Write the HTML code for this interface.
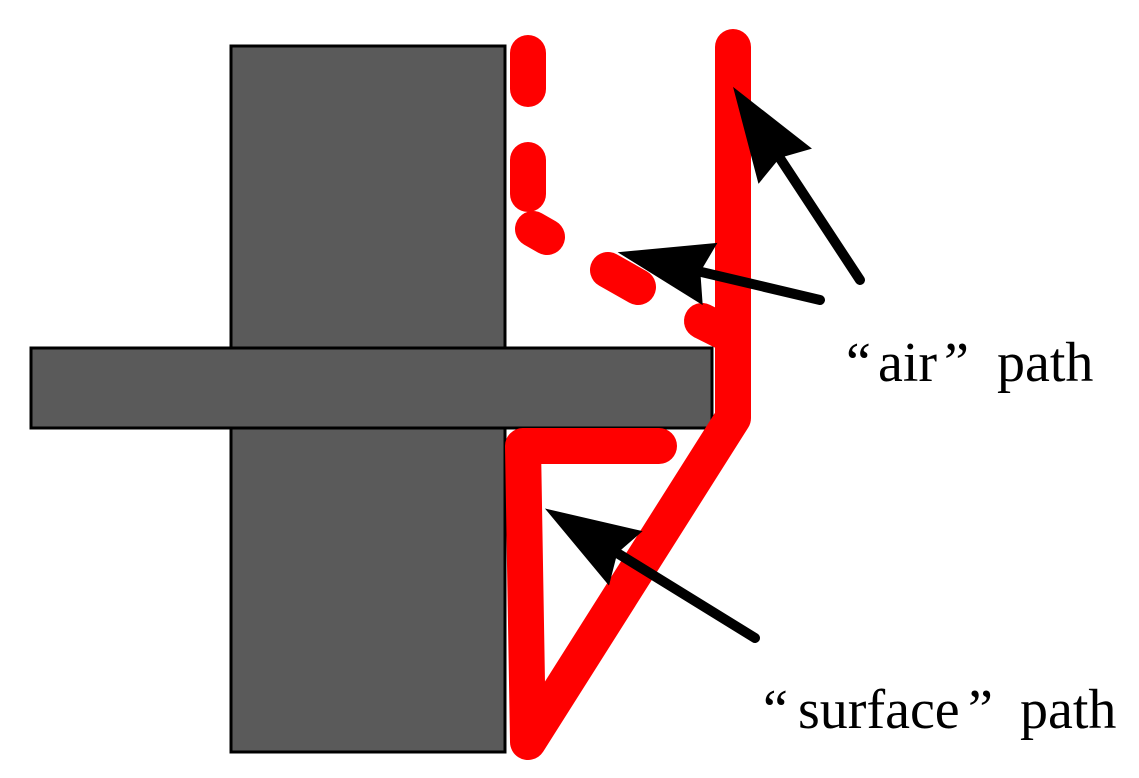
<!DOCTYPE html>
<html><head><style>
html,body{margin:0;padding:0;background:#fff;width:1139px;height:778px;overflow:hidden}
svg{display:block}
text{font-family:"Liberation Serif",serif;font-size:56px;fill:#000}
</style></head><body>
<svg width="1139" height="778" viewBox="0 0 1139 778">
<defs>
<marker id="ah" markerUnits="userSpaceOnUse" markerWidth="100" markerHeight="70" refX="35" refY="35" orient="auto">
<path d="M0,3 L95,35 L0,67 L10,35 Z" fill="#000"/>
</marker>
</defs>
<rect x="231" y="46" width="274" height="706" fill="#5a5a5a" stroke="#000" stroke-width="3"/>
<rect x="31" y="348" width="681" height="80" fill="#5a5a5a" stroke="#000" stroke-width="3"/>
<g stroke="#f00" stroke-width="36" stroke-linecap="round" fill="none" stroke-linejoin="round">
<line x1="528" y1="53" x2="528" y2="89"/>
<line x1="528" y1="160" x2="528" y2="194"/>
<line x1="533" y1="229" x2="547" y2="237"/>
<line x1="608" y1="270" x2="638" y2="287"/>
<line x1="702" y1="321" x2="722" y2="331"/>
<polyline points="733,47 733,418 528,742 523,446 659,446"/>
</g>
<g stroke="#000" stroke-width="10" stroke-linecap="round" fill="none">
<line x1="860" y1="280" x2="766" y2="137" marker-end="url(#ah)"/>
<line x1="820" y1="300" x2="676" y2="266" marker-end="url(#ah)"/>
<line x1="755" y1="638" x2="596" y2="540" marker-end="url(#ah)"/>
</g>
<text y="381"><tspan x="846">“</tspan><tspan x="878">air</tspan><tspan x="944">”</tspan><tspan x="997">path</tspan></text>
<text y="728"><tspan x="763">“</tspan><tspan x="798">surface</tspan><tspan x="968">”</tspan><tspan x="1020">path</tspan></text>
</svg>
</body></html>
